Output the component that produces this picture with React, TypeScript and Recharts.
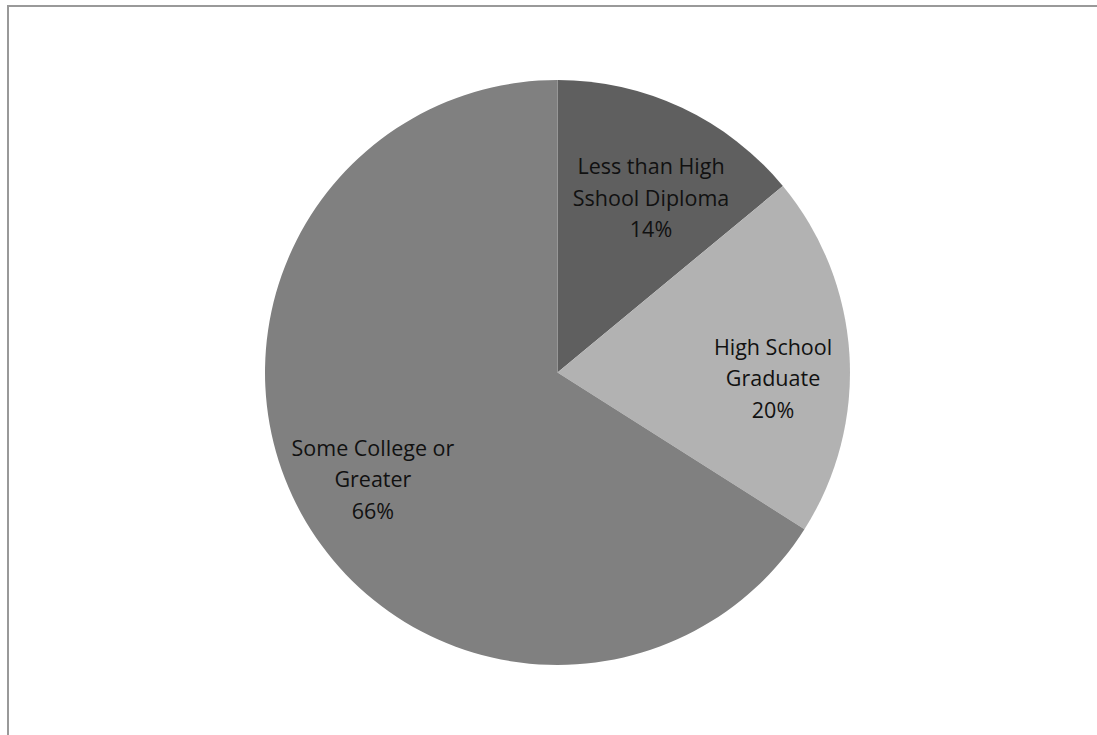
import React from "react";
import { PieChart, Pie, Cell } from "recharts";

const categories = ["Less than High\nSshool Diploma", "High School\nGraduate", "Some College or\nGreater"];
const values = [14, 20, 66];
const colors = ["#5f5f5f", "#b2b2b2", "#808080"];

const data = categories.map((name, i) => ({ name, value: values[i] }));

const RADIAN = Math.PI / 180;
const labelRatio = [0.68, 0.737, 0.727];
const labelAngleShift = [-2.85, -4.8, 0.96];

const renderLabel = (props: any) => {
  const { cx, cy, midAngle, outerRadius, index, name, value } = props;
  const r = outerRadius * labelRatio[index];
  const a = (midAngle + labelAngleShift[index]) * RADIAN;
  const x = cx + r * Math.cos(-a);
  const y = cy + r * Math.sin(-a);
  const lines = String(name).split("\n").concat([`${value}%`]);
  const lh = 31.5;
  const start = y - ((lines.length - 1) * lh) / 2;
  return (
    <text
      x={x}
      y={start}
      textAnchor="middle"
      dominantBaseline="central"
      fill="#111"
      fontFamily="'Open Sans', sans-serif"
      fontSize={21.5}
    >
      {lines.map((l, i) => (
        <tspan key={i} x={x} y={start + i * lh} dominantBaseline="central">
          {l}
        </tspan>
      ))}
    </text>
  );
};

export default function App() {
  return (
    <div
      style={{
        position: "absolute",
        left: 0,
        top: 0,
        width: 1097,
        height: 735,
        overflow: "hidden",
        background: "#fff",
      }}
    >
      <div
        style={{
          position: "absolute",
          left: 7,
          top: 5,
          width: 1300,
          height: 900,
          borderTop: "2px solid #999999",
          borderLeft: "2px solid #999999",
        }}
      />
      <div style={{ position: "absolute", left: 0, top: 0 }}>
        <PieChart width={1097} height={735} margin={{ top: 0, right: 0, bottom: 0, left: 0 }}>
          <Pie
            data={data}
            dataKey="value"
            nameKey="name"
            cx={557.5}
            cy={372.5}
            outerRadius={292.5}
            startAngle={90}
            endAngle={-270}
            stroke="none"
            isAnimationActive={false}
            labelLine={false}
            label={renderLabel}
          >
            {data.map((d, i) => (
              <Cell key={d.name} fill={colors[i]} />
            ))}
          </Pie>
        </PieChart>
      </div>
    </div>
  );
}
